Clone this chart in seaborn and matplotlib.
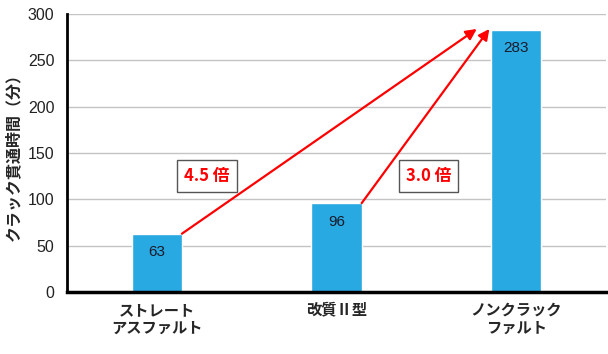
import matplotlib
matplotlib.use("Agg")
import matplotlib.pyplot as plt
import seaborn as sns
import pandas as pd
from matplotlib.ticker import FixedLocator

categories = ["ストレート\nアスファルト", "改質Ⅱ型", "ノンクラック\nファルト"]
values = [63, 96, 283]
ratio_labels = ["4.5 倍", "3.0 倍"]
y_label = "クラック貫通時間（分）"
y_ticks = [0, 50, 100, 150, 200, 250, 300]

NUM_FONT = ["Liberation Sans", "DejaVu Sans"]


def plot_chart(df) -> None:
	fig = plt.figure(figsize=(6.08, 3.54), dpi=100)
	ax = fig.add_axes([0.110, 0.175, 0.887, 0.785])
	sns.barplot(
		data=df,
		x="category",
		y="value",
		ax=ax,
		color="#29a9e1",
		width=0.28,
		saturation=1,
		zorder=2
	)
	ax.set_ylim(0, 300)
	ax.set_xlim(-0.5, 2.5)
	ax.set_yticks(y_ticks)
	ax.yaxis.grid(True, color="#c4c4c4", lw=1, zorder=0)
	ax.set_axisbelow(True)
	ax.tick_params(axis="y", length=0, labelsize=11.5, labelcolor="#222222", pad=9)
	for lbl in ax.get_yticklabels():
		lbl.set_family(NUM_FONT)
	ax.tick_params(axis="x", which="major", length=0, labelsize=11, pad=7)
	ax.xaxis.set_minor_locator(FixedLocator([0.5, 1.5, 2.5]))
	ax.tick_params(axis="x", which="minor", direction="in", length=7, width=1, color="#333333")
	for lbl in ax.get_xticklabels():
		lbl.set_fontweight("bold")
		lbl.set_linespacing(1.15)
	ax.set_xlabel("")
	ax.set_ylabel(y_label, fontsize=11.5, fontweight="bold", labelpad=5)
	for side in ["top", "right"]:
		ax.spines[side].set_visible(False)
	ax.spines["left"].set_linewidth(2)
	ax.spines["bottom"].set_linewidth(2.5)
	ax.spines["left"].set_color("black")
	ax.spines["bottom"].set_color("black")

	# value labels inside the bars
	for i, v in enumerate(df["value"]):
		ax.text(i, v - 20, str(v), ha="center", va="center", fontsize=11,
			color="#1a1a2a", family=NUM_FONT, zorder=4)

	# arrows from the top-right corner of the first two bars to the third bar
	half = 0.14
	tips = [(1.78, 284), (1.85, 284)]
	for i, tip in enumerate(tips):
		ax.annotate(
			"",
			xy=tip,
			xytext=(i + half, df["value"][i]),
			arrowprops=dict(arrowstyle="-|>", color="#ff0000", lw=1.6,
				mutation_scale=16, shrinkA=0, shrinkB=0),
			zorder=5
		)

	box_pos = [(0.28, 125), (1.51, 125)]
	for (bx, by), label in zip(box_pos, ratio_labels):
		ax.text(
			bx, by, label, ha="center", va="center", fontsize=12,
			fontweight="bold", color="#ff0000", zorder=6,
			bbox=dict(boxstyle="square,pad=0.42", fc="white", ec="#555555", lw=1)
		)
	fig.savefig("out.png", dpi=100)


def main():
	sns.set_theme(style="white")
	plt.rcParams["font.family"] = ["Noto Sans CJK JP", "DejaVu Sans"]
	df = pd.DataFrame({"category": categories, "value": values})
	plot_chart(df)


if __name__ == "__main__":
	main()
